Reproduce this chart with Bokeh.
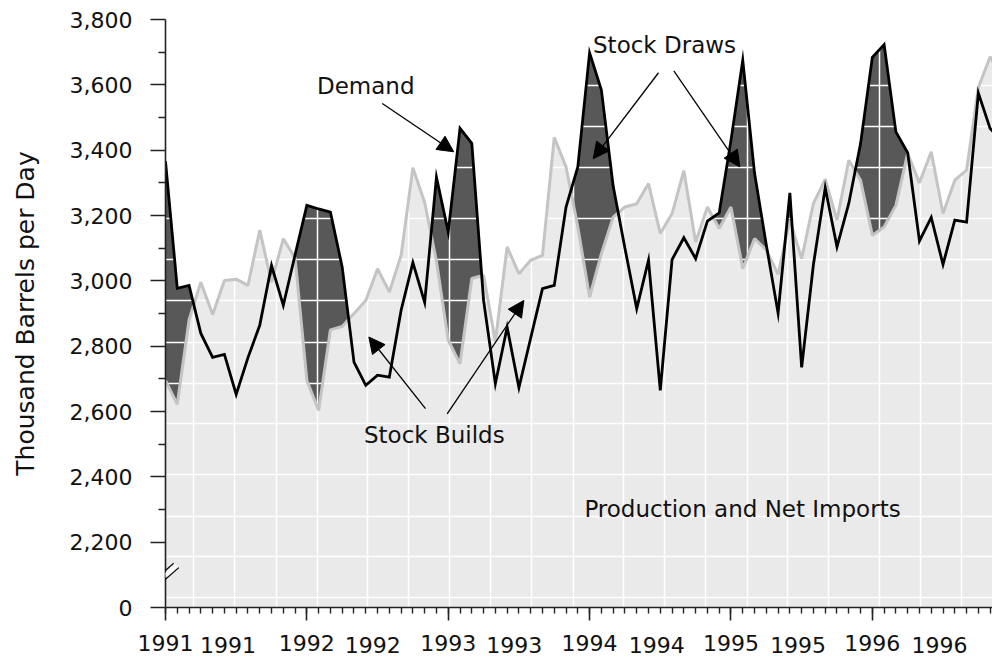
from bokeh.plotting import figure
from bokeh.models import Range1d, FixedTicker, Arrow, NormalHead, Label, LinearAxis
from bokeh.embed import file_html
from bokeh.resources import INLINE

# Monthly series, Jan 1991 (month 0) through Dec 1996 (month 71)
months = list(range(72))

demand = [3366, 2977, 2986, 2839, 2766, 2775, 2652, 2765, 2864, 3047, 2925, 3080,
          3231, 3220, 3210, 3042, 2751, 2680, 2711, 2705, 2910, 3056, 2934, 3317,
          3149, 3467, 3421, 2940, 2685, 2858, 2673, 2825, 2976, 2986, 3226, 3349,
          3698, 3584, 3290, 3100, 2915, 3063, 2665, 3065, 3132, 3068, 3183, 3208,
          3430, 3675, 3330, 3110, 2901, 3269, 2735, 3050, 3285, 3104, 3237, 3420,
          3684, 3723, 3456, 3392, 3122, 3194, 3050, 3186, 3180, 3575, 3466, 3430]

supply = [2695, 2622, 2880, 2996, 2897, 3001, 3005, 2986, 3155, 2996, 3129, 3070,
          2695, 2603, 2850, 2860, 2900, 2940, 3037, 2966, 3078, 3346, 3240, 3060,
          2818, 2746, 3007, 3017, 2815, 3104, 3022, 3063, 3078, 3439, 3349, 3165,
          2950, 3083, 3195, 3226, 3236, 3298, 3145, 3206, 3337, 3119, 3226, 3160,
          3226, 3037, 3129, 3094, 3020, 3186, 3068, 3237, 3311, 3186, 3369, 3308,
          3139, 3165, 3231, 3390, 3300, 3395, 3206, 3308, 3339, 3592, 3686, 3620]

years = ["1991", "1992", "1993", "1994", "1995", "1996"]
year_starts = [0, 12, 24, 36, 48, 60]
mid_label_pos = [5.3, 17.6, 29.6, 41.7, 53.7, 65.7]

y_major = [2000, 2200, 2400, 2600, 2800, 3000, 3200, 3400, 3600, 3800]
y_minor = [2300, 2500, 2700, 2900, 3100, 3300, 3500, 3700]
y_labels = ["0", "2,200", "2,400", "2,600", "2,800", "3,000", "3,200", "3,400", "3,600", "3,800"]

# white grid over the shaded areas
x_grid = [2.35, 5.86, 9.38, 12.88, 17.12, 20.63, 24.11, 27.6, 31.1, 34.6, 38.85,
          42.36, 45.84, 49.38, 52.8, 56.3, 60.6, 64.1, 67.6]
y_grid = [2031, 2156, 2279, 2407, 2564, 2686, 2812, 2940, 3066, 3191, 3348, 3473, 3599]

FONT = "DejaVu Sans"
TXT = "#111111"
AX = "#222222"
BASE = 2000

p = figure(width=992, height=658, output_backend="svg", toolbar_location=None,
           x_range=Range1d(0, 70.2), y_range=Range1d(BASE, 3800),
           min_border_left=165, min_border_right=0, min_border_top=19, min_border_bottom=51)
p.outline_line_color = None
p.background_fill_color = "white"
p.border_fill_color = "white"


def draw_band(x, lo, hi):
    """Region between lo and hi where hi > lo, with crossing points inserted."""
    xs, y1, y2 = [], [], []
    for i in range(len(x)):
        if i > 0:
            d0 = hi[i - 1] - lo[i - 1]
            d1 = hi[i] - lo[i]
            if d0 * d1 < 0:
                t = d0 / (d0 - d1)
                xc = x[i - 1] + t * (x[i] - x[i - 1])
                yc = lo[i - 1] + t * (lo[i] - lo[i - 1])
                xs.append(xc); y1.append(yc); y2.append(yc)
        xs.append(x[i]); y1.append(lo[i]); y2.append(max(hi[i], lo[i]))
    return xs, y1, y2


# production + net imports area
supply_area = p.varea(x=months, y1=BASE, y2=supply, fill_color="#eaeaea")
supply_area.level = "image"

# stock draws: demand above supply
bx, by1, by2 = draw_band(months, supply, demand)
draw_area = p.varea(x=bx, y1=by1, y2=by2, fill_color="#585858")
draw_area.level = "image"

p.line(months, supply, line_color="#c4c4c4", line_width=3)
p.line(months, demand, line_color="black", line_width=2.8, line_join="miter")

# grids
p.xgrid.ticker = FixedTicker(ticks=x_grid)
p.ygrid.ticker = FixedTicker(ticks=y_grid)
for g in (p.xgrid, p.ygrid):
    g.grid_line_color = "white"
    g.grid_line_width = 1.5

# axes
p.xaxis.ticker = FixedTicker(ticks=year_starts, minor_ticks=months)
p.xaxis.major_label_overrides = {s: y for s, y in zip(year_starts, years)}
p.yaxis.ticker = FixedTicker(ticks=y_major, minor_ticks=y_minor)
p.yaxis.major_label_overrides = {v: t for v, t in zip(y_major, y_labels)}
p.yaxis.axis_label = "Thousand Barrels per Day"
p.yaxis.axis_label_text_font = FONT
p.yaxis.axis_label_text_font_size = "25px"
p.yaxis.axis_label_text_font_style = "normal"
p.yaxis.axis_label_text_color = TXT
p.yaxis.axis_label_standoff = 27
p.yaxis.major_tick_out = 15
p.yaxis.minor_tick_out = 7
p.yaxis.major_label_standoff = 18
p.xaxis.major_tick_out = 13
p.xaxis.minor_tick_out = 6
p.xaxis.major_label_standoff = 14
for ax in (p.xaxis, p.yaxis):
    ax.axis_line_color = AX
    ax.axis_line_width = 1.6
    ax.major_tick_line_color = AX
    ax.major_tick_line_width = 1.6
    ax.minor_tick_line_color = AX
    ax.minor_tick_line_width = 1.4
    ax.major_tick_in = 0
    ax.minor_tick_in = 0
    ax.major_label_text_font = FONT
    ax.major_label_text_font_size = "22px"
    ax.major_label_text_color = TXT

# second row of year labels, pulled back up beside the first row
mid_axis = LinearAxis(ticker=FixedTicker(ticks=mid_label_pos, minor_ticks=[]),
                      major_label_overrides={m: y for m, y in zip(mid_label_pos, years)},
                      axis_line_color=None, major_tick_line_color=None,
                      minor_tick_line_color=None, major_tick_out=0, major_tick_in=0,
                      minor_tick_out=0, minor_tick_in=0,
                      major_label_standoff=-17, major_label_text_font=FONT,
                      major_label_text_font_size="22px", major_label_text_color=TXT)
p.add_layout(mid_axis, "below")

# axis break mark
for xs, ys, xe, ye, col, w in [(-1.13, 2077, 0.70, 2136, "black", 1.2),
                               (-0.95, 2069, 0.92, 2129, "white", 3.5),
                               (-0.76, 2062, 1.13, 2122, "black", 1.2)]:
    p.add_layout(Arrow(end=None, x_start=xs, y_start=ys, x_end=xe, y_end=ye,
                       line_color=col, line_width=w))

# callouts
notes = [("Demand", 17.0, 3597), ("Stock Draws", 42.36, 3721),
         ("Stock Builds", 22.82, 2527), ("Production and Net Imports", 48.98, 2303)]
for txt, nx, ny in notes:
    p.add_layout(Label(x=nx, y=ny, text=txt, text_align="center", text_baseline="middle",
                       text_font=FONT, text_font_size="23px", text_color=TXT))

arrows = [(18.40, 3543, 24.47, 3395),
          (41.85, 3637, 36.31, 3374),
          (43.15, 3643, 48.75, 3349),
          (22.07, 2609, 17.26, 2828),
          (23.91, 2593, 30.42, 2940)]
for xs, ys, xe, ye in arrows:
    p.add_layout(Arrow(end=NormalHead(size=16, fill_color="black", line_color="black", line_width=1),
                       x_start=xs, y_start=ys, x_end=xe, y_end=ye,
                       line_color="black", line_width=1.3))

open("out.html", "w").write(file_html(p, INLINE))
